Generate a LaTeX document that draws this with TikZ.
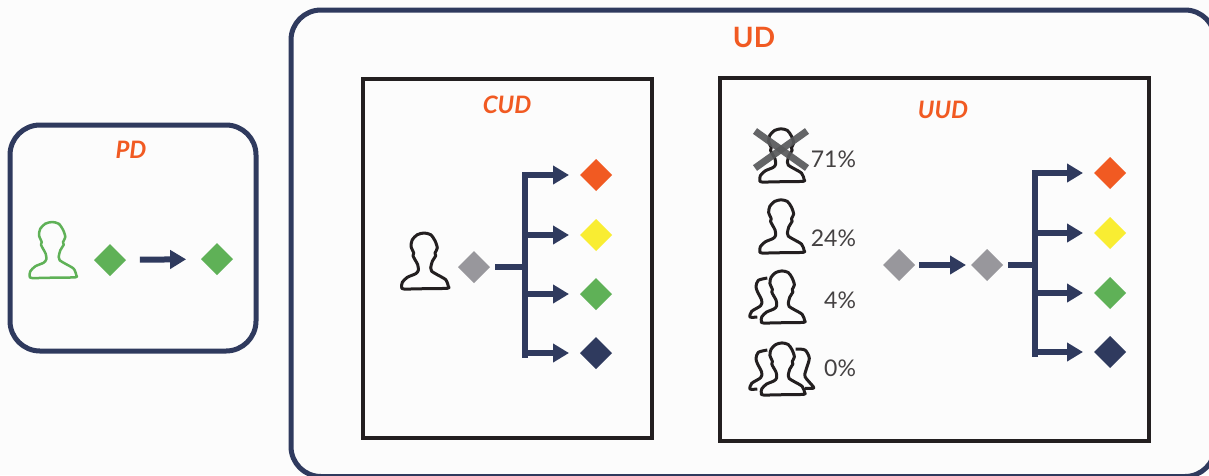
\documentclass[tikz,border=0pt]{standalone}
\usepackage{fontspec}
\setmainfont{Lato}
\usetikzlibrary{arrows.meta,shapes.geometric}
\definecolor{navyline}{HTML}{2F3A5E}
\definecolor{tagorange}{HTML}{F15A22}
\definecolor{itemyellow}{HTML}{F9ED32}
\definecolor{itemgreen}{HTML}{5FB157}
\definecolor{itemgray}{HTML}{98979C}
\definecolor{frameblack}{HTML}{231F20}
\definecolor{crossgray}{HTML}{58595B}
\tikzset{
	item/.style={diamond, fill=#1, minimum size=32pt, inner sep=0pt, outer sep=0pt},
	flow/.style={navyline, line width=6pt, -{Triangle[length=16pt,width=18pt]}, shorten >=11pt},
	stub/.style={navyline, line width=5.5pt},
	tag/.style={text=tagorange, font=\fontsize{24}{24}\selectfont\bfseries\itshape},
	share/.style={anchor=east, text=frameblack!85, font=\fontsize{23}{23}\selectfont},
	head/.pic={
		\draw[line width=#1, line join=round] plot[smooth cycle, tension=.45] coordinates {
			(-22.3,-1.7) (-21.7,-6.7) (-16.7,-11.7) (-8.3,-15.3) (-5.7,-18.7) (-6.3,-24.3) (-9,-29.3) (-11,-33.3) (-10.3,-36) (-13,-42.7) (-11.7,-49.3) (-6.7,-54.3) (0,-56) (6.7,-54.3) (11,-48.3) (13.3,-41) (11,-36) (11.7,-33.3) (8.3,-27.7) (6.7,-21) (7.7,-17.7) (13.3,-14.3) (21.7,-9.3) (24.3,-2.7) (23.3,-.7) (0,-.3) (-20,0)
		};
	},
	backleft/.pic={
		\draw[line width=3pt, line join=round] plot[smooth, tension=.45] coordinates {
			(-24.7,-6) (-32,-6) (-30.3,-11.7) (-21.3,-17.3) (-20.3,-22.7) (-24.7,-31.7) (-26,-36.7) (-23.7,-42.7) (-14.7,-45)
		};
	},
	backright/.pic={
		\draw[line width=3pt, line join=round] plot[smooth, tension=.45] coordinates {
			(13.7,-46) (23,-45) (27.3,-36.7) (24,-25) (23,-18.3) (31.3,-8.3) (30.7,-6.7) (23,-6.7)
		};
	}
}
\begin{document}
\begin{tikzpicture}[x=1pt, y=-1pt]
	\useasboundingbox (0,0) rectangle (1209,475);
	\fill[white!99!black] (0,0) rectangle (1209,475);

	% frames
	\draw[navyline, line width=5pt, rounded corners=30pt] (10,125) rectangle (256,351);
	\draw[navyline, line width=5pt, rounded corners=30pt] (291,10) rectangle (1215,476.5);
	\draw[frameblack, line width=4pt] (363,79) rectangle (652,438);
	\draw[frameblack, line width=4pt] (720,78) rectangle (1149,441);

	\node[tag] (pdtag) at (131,150) {PD};
	\node[tag, font=\fontsize{28}{28}\selectfont\bfseries] (udtag) at (754,37) {UD};
	\node[tag] (cudtag) at (507,105) {CUD};
	\node[tag] (uudtag) at (943,110) {UUD};

	% PD
	\pic[itemgreen] at (52,278) {head=2.5pt};
	\node[item=itemgreen] (pdin) at (110,260) {};
	\node[item=itemgreen] (pdout) at (217,259) {};
	\draw[flow, shorten <=14pt, shorten >=15pt] (pdin) -- (pdout);

	% CUD
	\pic[frameblack] at (424,289) {head=3pt};
	\node[item=itemgray] (cudin) at (474,267) {};
	\coordinate (cudtrunk) at (525,267);
	\foreach \name/\col/\y in {red/tagorange/175, yellow/itemyellow/235, green/itemgreen/294, navy/navyline/353} {
		\node[item=\col] (cud\name) at (596,\y) {};
		\draw[flow] (cudtrunk |- cud\name) -- (cud\name);
	}
	\draw[stub] ([yshift=3pt]cudtrunk |- cudred) -- ([yshift=-5pt]cudtrunk |- cudnavy);
	\draw[stub, shorten <=5pt] (cudin) -- (cudtrunk);

	% UUD
	\pic[frameblack, scale=.95] at (781,182) {head=3pt};
	\draw[crossgray, line width=7pt, opacity=.92] (755,131) -- (807,168);
	\draw[crossgray, line width=7pt, opacity=.92] (807,131) -- (755,168);
	\pic[frameblack, scale=.95] at (781,253) {head=3pt};
	\pic[frameblack, scale=.93] at (782,323) {head=3pt};
	\pic[frameblack] at (782,323) {backleft};
	\pic[frameblack, scale=.93] at (782,395) {head=3pt};
	\pic[frameblack] at (782,395) {backleft};
	\pic[frameblack] at (782,395) {backright};
	\node[share] (sharea) at (859.5,159) {71\%};
	\node[share] (shareb) at (859.5,238) {24\%};
	\node[share] (sharec) at (859.5,300) {4\%};
	\node[share] (shared) at (859.5,368) {0\%};

	\node[item=itemgray] (uudin) at (899,265) {};
	\node[item=itemgray] (uudmid) at (987,265) {};
	\draw[flow, shorten <=4pt, shorten >=5pt] (uudin) -- (uudmid);
	\coordinate (uudtrunk) at (1035,265);
	\foreach \name/\col/\y in {red/tagorange/173, yellow/itemyellow/233, green/itemgreen/293, navy/navyline/352} {
		\node[item=\col] (uud\name) at (1110,\y) {};
		\draw[flow] (uudtrunk |- uud\name) -- (uud\name);
	}
	\draw[stub] ([yshift=3pt]uudtrunk |- uudred) -- ([yshift=-5pt]uudtrunk |- uudnavy);
	\draw[stub, shorten <=5pt] (uudmid) -- (uudtrunk);
\end{tikzpicture}
\end{document}
